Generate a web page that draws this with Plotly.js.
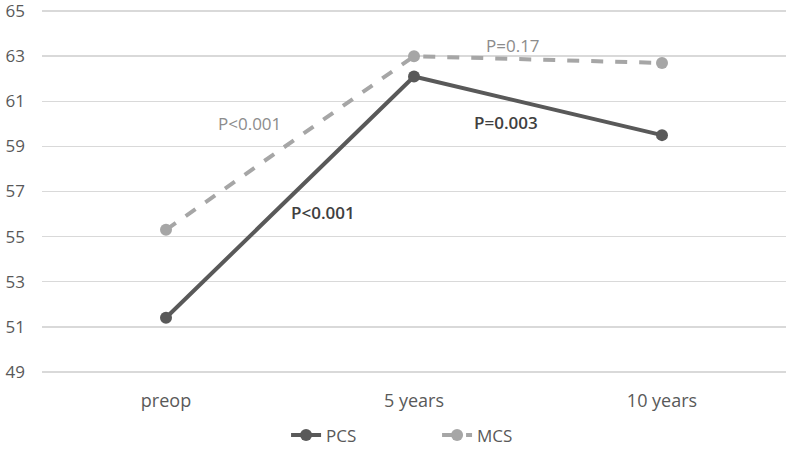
<!DOCTYPE html>
<html><head><meta charset="utf-8">
<script src="https://cdn.plot.ly/plotly-3.0.1.min.js"></script>
<style>html,body{margin:0;padding:0;background:#fff}#chart{width:787px;height:454px}</style>
</head><body><div id="chart"></div>
<script>
const categories = ["preop", "5 years", "10 years"];
const pcsValues = [51.4, 62.1, 59.5];
const mcsValues = [55.3, 63.0, 62.7];
const yTicks = [49, 51, 53, 55, 57, 59, 61, 63, 65];
const annotationTexts = ["P<0.001", "P<0.001", "P=0.003", "P=0.17"];
const annotationX = [0.335, 0.633, 1.371, 1.399];
const annotationY = [60.03, 56.07, 60.07, 63.48];
const annotationColors = ["#8c8c8c", "#404040", "#404040", "#8c8c8c"];
const annotationWeights = [400, 600, 600, 400];

const xIdx = categories.map((c, i) => i);
const traces = [
  {x: xIdx, y: pcsValues, name: "PCS", mode: "lines+markers",
   line: {color: "#595959", width: 4}, marker: {color: "#595959", size: 12}},
  {x: xIdx, y: mcsValues, name: "MCS", mode: "lines+markers",
   line: {color: "#a6a6a6", width: 4, dash: "dash"}, marker: {color: "#a6a6a6", size: 12}}
];
const layout = {
  width: 787, height: 454,
  margin: {l: 42, r: 1, t: 10, b: 79},
  paper_bgcolor: "#fff", plot_bgcolor: "#fff",
  font: {family: "Open Sans, Liberation Sans, sans-serif", color: "#595959", size: 17},
  showlegend: true,
  legend: {orientation: "h", x: 0.531, xanchor: "center", y: -0.172, yanchor: "middle",
           entrywidth: 106, font: {size: 17, color: "#595959"}},
  xaxis: {range: [-0.5, 2.5], tickvals: xIdx, ticktext: categories, showgrid: false,
          zeroline: false, showline: false, ticks: "", ticklabelstandoff: 15,
          tickfont: {size: 18, color: "#595959"}},
  yaxis: {range: [48.95, 65.05], tickvals: yTicks, ticktext: yTicks.map(String),
          showgrid: true, gridcolor: "#d9d9d9", gridwidth: 1.5, zeroline: false, showline: false,
          ticks: "", ticklabelstandoff: 16, ticklabeloverflow: "allow",
          tickfont: {size: 17, color: "#595959"}},
  annotations: annotationTexts.map((t, i) => ({
    x: annotationX[i], y: annotationY[i], xref: "x", yref: "y", text: t, showarrow: false,
    font: {size: 17, color: annotationColors[i], weight: annotationWeights[i]}
  }))
};
Plotly.newPlot("chart", traces, layout, {displayModeBar: false, staticPlot: true});
</script></body></html>
